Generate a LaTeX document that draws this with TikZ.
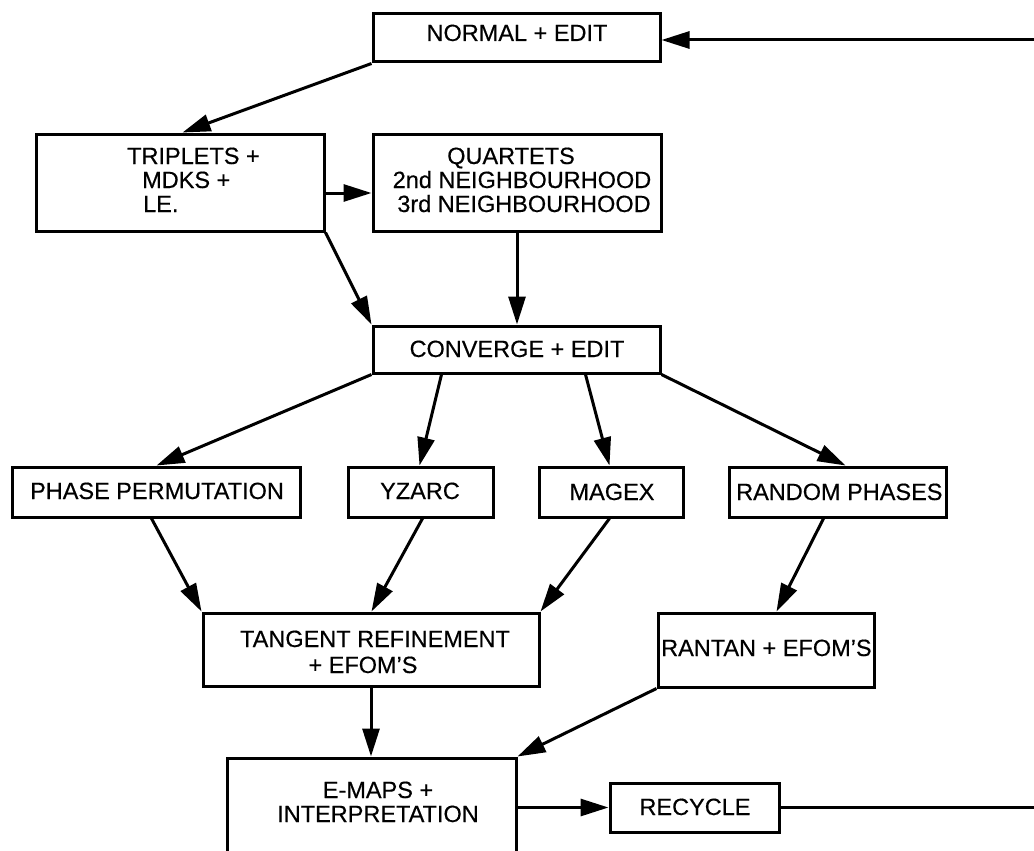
\documentclass[tikz,border=0pt]{standalone}
\usepackage{fontspec}
\setmainfont{Liberation Sans}
\newfontfamily\chartfont{Liberation Sans}[FakeBold=0.4]
\usetikzlibrary{arrows.meta,fit}
\begin{document}
\begin{tikzpicture}[x=1pt,y=-1pt,
  box/.style={draw,line width=3pt,inner sep=0pt,rectangle},
  lbl/.style={font=\chartfont\fontsize{23.5}{26}\selectfont,inner sep=0pt,anchor=base},
  lblw/.style={lbl,anchor=base west},
  arr/.style={line width=3pt,-{Triangle[length=28pt,width=17pt]}}]
\useasboundingbox (0,0) rectangle (1034,851);
\clip (0,0) rectangle (1034,851);
\fill[white] (0,0) rectangle (1034,851);

% boxes
\node[box,fit={(373,14) (660,62)}]   (normal)  {};
\node[box,fit={(36,134) (324,231)}]  (trip)    {};
\node[box,fit={(373,134) (661,231)}] (quart)   {};
\node[box,fit={(373,326) (660,373)}] (conv)    {};
\node[box,fit={(12,467) (300,517)}]  (phase)   {};
\node[box,fit={(348,467) (493,517)}] (yzarc)   {};
\node[box,fit={(539,467) (683,517)}] (magex)   {};
\node[box,fit={(729,467) (946,517)}] (random)  {};
\node[box,fit={(203,613) (539,686)}] (tang)    {};
\node[box,fit={(658,613) (874,687)}] (rantan)  {};
\node[box,fit={(227,758) (516,880)}] (emaps)   {};
\node[box,fit={(610,783) (779,832)}] (recycle) {};

% labels
\node[lbl]  (normal-t) at (517,41)  {NORMAL + EDIT};
\node[lblw] (trip-a)   at (127,164) {TRIPLETS +};
\node[lblw] (trip-b)   at (142,188) {MDKS +};
\node[lblw] (trip-c)   at (143,212) {LE.};
\node[lbl]  (quart-a)  at (511,164) {QUARTETS};
\node[lbl]  (quart-b)  at (522,188) {2nd NEIGHBOURHOOD};
\node[lbl]  (quart-c)  at (524,212) {3rd NEIGHBOURHOOD};
\node[lbl]  (conv-t)   at (517,357) {CONVERGE + EDIT};
\node[lbl]  (phase-t)  at (157,499) {PHASE PERMUTATION};
\node[lbl]  (yzarc-t)  at (420,499) {YZARC};
\node[lbl]  (magex-t)  at (612,500) {MAGEX};
\node[lblw] (random-t) at (736,500) {RANDOM PHASES};
\node[lbl]  (tang-a)   at (375,647) {TANGENT REFINEMENT};
\node[lbl]  (tang-b)   at (363,673) {+ EFOM’S};
\node[lblw] (rantan-t) at (661,656) {RANTAN + EFOM’S};
\node[lbl]  (emaps-a)  at (378,798) {E-MAPS +};
\node[lbl]  (emaps-b)  at (378,822) {INTERPRETATION};
\node[lbl]  (recyc-t)  at (695,815) {RECYCLE};

% connectors
\draw[arr] (normal.south west) -- ([xshift=148pt]trip.north west);
\draw[arr] ([yshift=-10.5pt]trip.east) -- ([yshift=-10.5pt]quart.west);
\draw[arr] (trip.south east) -- (conv.north west);
\draw[arr] (quart.south) -- (quart.south |- conv.north);
\draw[arr] (conv.south west) -- ([xshift=146pt]phase.north west);
\draw[arr] ([xshift=70pt]conv.south west) -- ([xshift=73pt]yzarc.north west);
\draw[arr] ([xshift=214pt]conv.south west) -- ([xshift=72pt]magex.north west);
\draw[arr] (conv.south east) -- ([xshift=118pt]random.north west);
\draw[arr] ([xshift=141pt]phase.south west) -- (tang.north west);
\draw[arr] ([xshift=76pt]yzarc.south west) -- ([xshift=170pt]tang.north west);
\draw[arr] ([xshift=72pt]magex.south west) -- (tang.north east);
\draw[arr] ([xshift=96pt]random.south west) -- ([xshift=120pt]rantan.north west);
\draw[arr] (tang.south) -- (tang.south |- emaps.north);
\draw[arr] (rantan.south west) -- (emaps.north east);
\draw[arr] (emaps.east |- recycle.west) -- (recycle.west);

% feedback loop back to the top
\coordinate (fbB) at (1060,807.5);
\coordinate (fbT) at (1060,40);
\draw[arr] (recycle.east) -- (fbB) -- (fbT) -- (normal.east |- fbT);
\end{tikzpicture}
\end{document}
